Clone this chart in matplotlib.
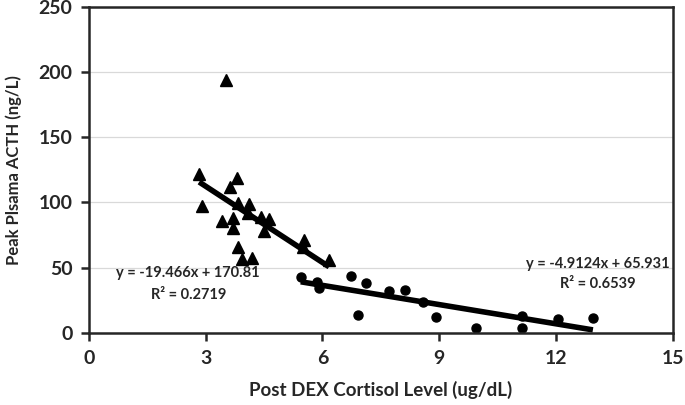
import numpy as np
import matplotlib.pyplot as plt

plt.rcParams['font.family'] = ['Lato', 'DejaVu Sans']
plt.rcParams['font.weight'] = 'bold'
plt.rcParams['axes.labelweight'] = 'bold'

# group 1 (triangles)
tri_x = [2.83, 2.91, 3.52, 3.81, 3.62, 3.82, 4.12, 3.41, 3.71, 3.71, 4.09,
         4.41, 4.63, 4.50, 3.82, 3.92, 4.20, 5.53, 5.50, 6.17]
tri_y = [122, 97.4, 194, 119, 111.7, 99.4, 98.9, 85.9, 88, 80.3, 91.8,
         89.2, 87.2, 77.8, 65.7, 56.7, 57.7, 71.3, 66, 56]

# group 2 (circles)
cir_x = [5.44, 5.85, 5.92, 6.73, 7.12, 6.92, 7.72, 8.13, 8.58, 8.92, 9.94,
         11.14, 11.14, 12.04, 12.95]
cir_y = [42.7, 38.9, 34.2, 43.7, 38.6, 13.8, 31.9, 33.2, 23.5, 12.5, 3.6,
         13.3, 3.6, 10.7, 11.5]

x_ticks = [0, 3, 6, 9, 12, 15]
y_ticks = [0, 50, 100, 150, 200, 250]

# trendlines (from the equations on the chart)
fit1 = (-19.466, 170.81)
fit2 = (-4.9124, 65.931)

fig = plt.figure(figsize=(6.85, 4.05), dpi=100)
ax = fig.add_axes([0.130, 0.178, 0.852, 0.805])

ax.grid(axis='y', color='#d9d9d9', linewidth=0.9)
ax.set_axisbelow(True)

ax.plot(tri_x, tri_y, '^', color='black', markersize=8, linestyle='none')
ax.plot(cir_x, cir_y, 'o', color='black', markersize=6.5, linestyle='none')

xs1 = np.array([min(tri_x), max(tri_x)])
ax.plot(xs1, fit1[0] * xs1 + fit1[1], color='black', linewidth=4, solid_capstyle='butt')
xs2 = np.array([min(cir_x), max(cir_x)])
ax.plot(xs2, fit2[0] * xs2 + fit2[1], color='black', linewidth=4, solid_capstyle='butt')

eq_kw = dict(ha='center', va='center', fontsize=10.5, fontweight='bold', color='#262626')
ax.text(2.55, 46, 'y = -19.466x + 170.81', **eq_kw)
ax.text(2.55, 29, 'R² = 0.2719', **eq_kw)
ax.text(13.08, 53, 'y = -4.9124x + 65.931', **eq_kw)
ax.text(13.08, 37.5, 'R² = 0.6539', **eq_kw)

ax.set_xlim(0, 15)
ax.set_ylim(0, 250)
ax.set_xticks(x_ticks)
ax.set_xticklabels([str(v) for v in x_ticks], fontweight='bold', fontsize=14, color='#262626')
ax.set_yticks(y_ticks)
ax.set_yticklabels([str(v) for v in y_ticks], fontweight='bold', fontsize=14, color='#262626')

for s in ax.spines.values():
    s.set_linewidth(1.8)
    s.set_color('#262626')
ax.tick_params(direction='out', length=6, width=1.8, color='#262626', pad=6)

ax.set_xlabel('Post DEX Cortisol Level (ug/dL)', fontsize=13.5,
              color='#262626', labelpad=10)
ax.set_ylabel('Peak Plsama ACTH (ng/L)', fontsize=12,
              color='#262626', labelpad=12)

fig.savefig('out.png', dpi=100)
